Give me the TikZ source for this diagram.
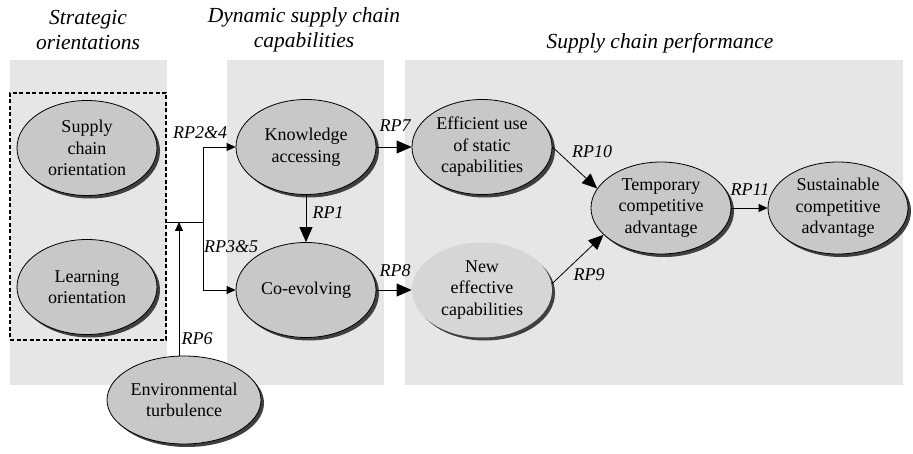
\documentclass[tikz,border=0pt]{standalone}
\usepackage{fontspec}
\setmainfont{Liberation Serif}
\usetikzlibrary{arrows.meta,shadows,shapes.geometric,positioning}
\definecolor{panelgray}{HTML}{E6E6E6}
\definecolor{ovalgray}{HTML}{C8C8C8}
\definecolor{newgray}{HTML}{D6D6D6}
\begin{document}
\begin{tikzpicture}[x=1pt,y=-1pt,
    oval/.style={ellipse, draw, line width=0.8pt, fill=ovalgray, inner sep=0pt,
        minimum width=140pt, minimum height=95pt, align=center,
        font=\fontsize{18}{21.5}\selectfont,
        drop shadow={shadow xshift=3pt, shadow yshift=-3pt, fill=black!75, opacity=1}},
    rp/.style={font=\fontsize{18}{21.5}\selectfont\itshape},
    title/.style={align=center, font=\fontsize{21.5}{25}\selectfont\itshape},
    big/.style={-{Triangle[length=15pt,width=13pt]}, line width=0.8pt},
    small/.style={-{Triangle[length=9pt,width=8pt]}, line width=0.8pt}]
    \useasboundingbox (0,0) rectangle (913,454);
    % panels
    \fill[panelgray] (10,60) rectangle (167,385);
    \fill[panelgray] (227,60) rectangle (384,385);
    \fill[panelgray] (405,60) rectangle (903,385);
    \node[title] (t1) at (88,30) {Strategic\\orientations};
    \node[title] (t2) at (304,30) {Dynamic supply chain\\capabilities};
    \node[title] (t3) at (660,43) {Supply chain performance};
    % boxes
    \node[draw, dashed, dash pattern=on 4pt off 2.5pt, line width=1.2pt,
        minimum width=156pt, minimum height=247pt] (so) at (88,216.5) {};
    \node[oval] (sco) at (87,148) {Supply\\chain\\orientation};
    \node[oval] (lo) at (87,287) {Learning\\orientation};
    \node[oval] (know) at (306,147) {Knowledge\\accessing};
    \node[oval] (coev) at (306,290) {Co-evolving};
    \node[oval] (eff) at (482,147) {Efficient use\\of static\\capabilities};
    \node[oval, draw=none, fill=newgray] (new) at (482,290) {New\\effective\\capabilities};
    \node[oval, minimum height=92pt] (temp) at (661,208) {Temporary\\competitive\\advantage};
    \node[oval, minimum height=92pt] (sust) at (838,208) {Sustainable\\competitive\\advantage};
    \node[oval, minimum width=154pt, minimum height=88pt] (env) at (184,400) {Environmental\\turbulence};
    % connectors
    \coordinate (split) at (203,222);
    \coordinate (envin) at (179,222);
    \draw[line width=0.8pt] (so.east |- split) -- (split);
    \draw[small] (split) |- (know.west);
    \draw[small] (split) |- (coev.west);
    \draw[small] (env.north -| envin) -- (envin);
    \draw[big] (know) -- (coev);
    \draw[big] (know) -- (eff);
    \draw[big] (coev) -- (new);
    \draw[big] (eff.east) -- (temp.163);
    \draw[big] (new.5) -- (temp.205);
    \draw[small] (temp) -- (sust);
    % labels
    \node[rp] (l24) at (200,133) {RP2\&4};
    \node[rp] (l35) at (231,247) {RP3\&5};
    \node[rp] (l6) at (197,339) {RP6};
    \node[rp] (l1) at (328,213) {RP1};
    \node[rp] (l7) at (395,126) {RP7};
    \node[rp] (l8) at (395,271) {RP8};
    \node[rp] (l10) at (592,152) {RP10};
    \node[rp] (l9) at (589,275) {RP9};
    \node[rp] (l11) at (750,190) {RP11};
\end{tikzpicture}
\end{document}
